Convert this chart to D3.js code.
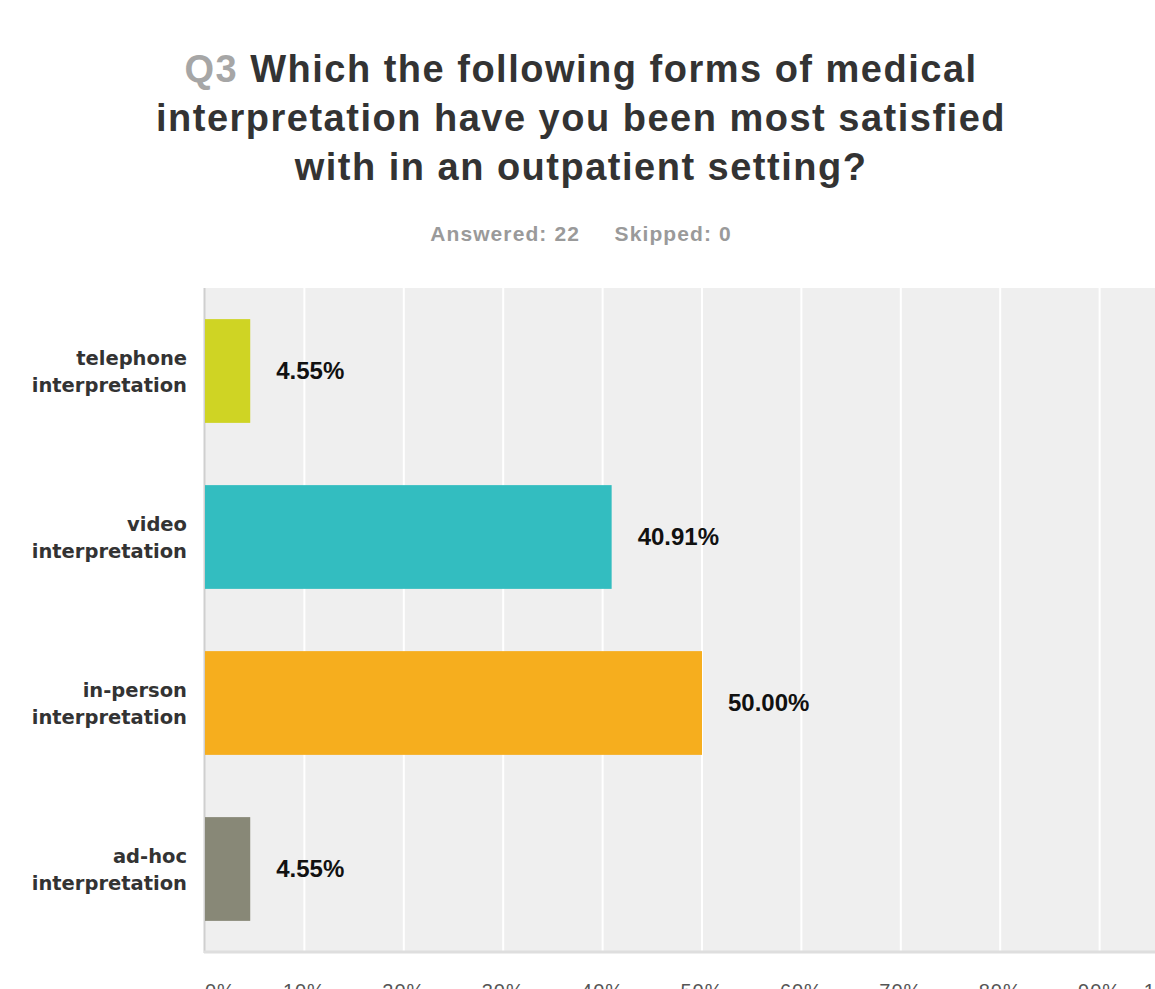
<!DOCTYPE html>
<html>
<head>
<meta charset="utf-8">
<script src="https://cdn.jsdelivr.net/npm/d3@7"></script>
<style>
  html, body { margin: 0; padding: 0; background: #fff; }
  svg { display: block; font-family: "Liberation Sans", Arial, sans-serif; }
</style>
</head>
<body>
<svg id="chart" width="1155" height="989"></svg>
<script>
// Survey results: share of respondents per form of interpretation
const categories = [
  ["telephone", "interpretation"],
  ["video", "interpretation"],
  ["in-person", "interpretation"],
  ["ad-hoc", "interpretation"]
];
const values = [0.0455, 0.4091, 0.50, 0.0455];
const valueLabels = ["4.55%", "40.91%", "50.00%", "4.55%"];
const barColors = ["#cfd424", "#33bdc0", "#f6ae1e", "#888877"];
const tickValues = [0, 0.1, 0.2, 0.3, 0.4, 0.5, 0.6, 0.7, 0.8, 0.9, 1.0];
const tickLabels = ["0%", "10%", "20%", "30%", "40%", "50%", "60%", "70%", "80%", "90%", "100%"];
const titleNumber = "Q3";
const titleLines = [
  "Which the following forms of medical",
  "interpretation have you been most satisfied",
  "with in an outpatient setting?"
];
const subtitle = "Answered: 22     Skipped: 0";

const svg = d3.select("#chart");
const plot = { left: 205, right: 1199, top: 288, bottom: 952 };

const x = d3.scaleLinear().domain([0, 1]).range([plot.left, plot.right]);
const y = d3.scaleBand()
  .domain(d3.range(categories.length))
  .range([plot.top, plot.bottom])
  .paddingInner(0.375)
  .paddingOuter(0.1875);

// Title
const title = svg.append("text")
  .attr("text-anchor", "middle")
  .attr("font-size", 38)
  .attr("font-weight", "bold")
  .attr("letter-spacing", 1.5)
  .attr("fill", "#333");
titleLines.forEach((line, i) => {
  const t = title.append("tspan").attr("x", 581).attr("y", 82 + i * 49);
  if (i === 0) {
    t.append("tspan").attr("fill", "#a6a6a6").text(titleNumber + " ");
  }
  t.append("tspan").text(line);
});

svg.append("text")
  .attr("x", 581).attr("y", 241)
  .attr("text-anchor", "middle")
  .attr("font-size", 21)
  .attr("font-weight", "bold")
  .attr("letter-spacing", 1.1)
  .attr("fill", "#9a9a9a")
  .attr("xml:space", "preserve")
  .style("white-space", "pre")
  .text(subtitle);

// Plot background
svg.append("rect")
  .attr("x", plot.left).attr("y", plot.top)
  .attr("width", 1155 - plot.left).attr("height", plot.bottom - plot.top)
  .attr("fill", "#efefef");

// Vertical gridlines
svg.append("g")
  .selectAll("line")
  .data(tickValues.slice(1))
  .join("line")
  .attr("x1", d => x(d)).attr("x2", d => x(d))
  .attr("y1", plot.top).attr("y2", plot.bottom)
  .attr("stroke", "#fff")
  .attr("stroke-width", 2);

// Axis lines
svg.append("line")
  .attr("x1", plot.left - 0.5).attr("x2", plot.left - 0.5)
  .attr("y1", plot.top).attr("y2", plot.bottom + 1)
  .attr("stroke", "#cfcfcf").attr("stroke-width", 2);
svg.append("line")
  .attr("x1", plot.left - 1).attr("x2", 1155)
  .attr("y1", plot.bottom).attr("y2", plot.bottom)
  .attr("stroke", "#dedede").attr("stroke-width", 3);

// Bars
svg.append("g")
  .selectAll("rect")
  .data(values)
  .join("rect")
  .attr("x", x(0))
  .attr("y", (d, i) => y(i))
  .attr("width", d => x(d) - x(0))
  .attr("height", y.bandwidth())
  .attr("fill", (d, i) => barColors[i]);

// Value labels
svg.append("g")
  .selectAll("text")
  .data(values)
  .join("text")
  .attr("x", d => x(d) + 26)
  .attr("y", (d, i) => y(i) + y.bandwidth() / 2)
  .attr("dy", "0.35em")
  .attr("font-size", 24)
  .attr("font-weight", "bold")
  .attr("fill", "#111")
  .text((d, i) => valueLabels[i]);

// Category labels
const cat = svg.append("g")
  .selectAll("text")
  .data(categories)
  .join("text")
  .attr("text-anchor", "end")
  .attr("font-family", "'DejaVu Sans', Verdana, sans-serif")
  .attr("font-size", 19.5)
  .attr("font-weight", "bold")
  .attr("fill", "#333");
cat.each(function(lines, i) {
  const cy = y(i) + y.bandwidth() / 2;
  d3.select(this).selectAll("tspan")
    .data(lines)
    .join("tspan")
    .attr("x", 187)
    .attr("y", (l, j) => cy - 6 + j * 27)
    .text(l => l);
});

// X axis tick labels
svg.append("g")
  .selectAll("text")
  .data(tickValues)
  .join("text")
  .attr("x", d => x(d))
  .attr("y", 998)
  .attr("text-anchor", (d, i) => i === 0 ? "start" : (i === tickValues.length - 1 ? "end" : "middle"))
  .attr("font-size", 20)
  .attr("letter-spacing", 1)
  .attr("fill", "#555")
  .text((d, i) => tickLabels[i]);
</script>
</body>
</html>
